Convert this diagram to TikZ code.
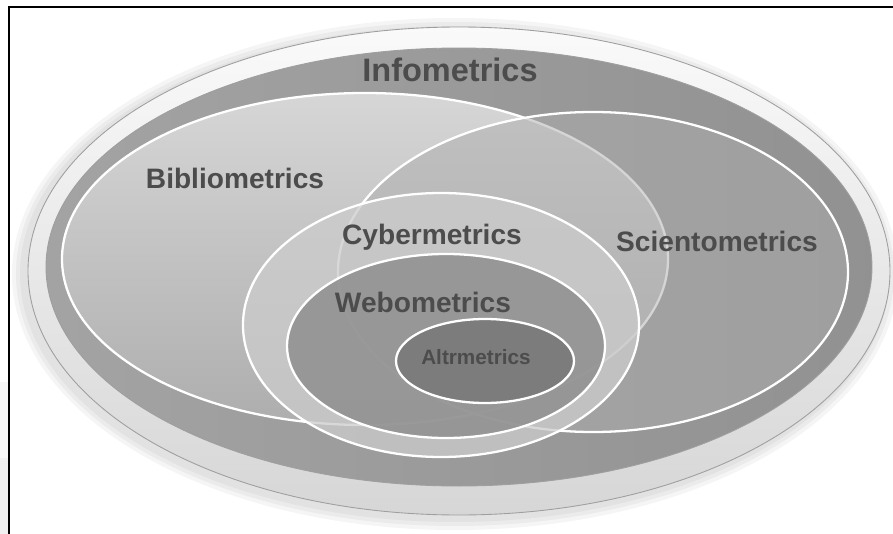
\documentclass[tikz,border=0pt]{standalone}
\usepackage{fontspec}
\setmainfont{Liberation Sans}
\usepackage{xcolor}
\usepackage{tikz}
\definecolor{labelgrey}{gray}{0.3}
\definecolor{infoleft}{gray}{0.64}
\definecolor{inforight}{gray}{0.57}
\definecolor{bibfill}{gray}{0.8}
\definecolor{scifill}{gray}{0.68}
\definecolor{cybfill}{gray}{0.8}
\definecolor{webfill}{gray}{0.56}
\definecolor{altfill}{gray}{0.48}
\tikzstyle{setname} = [font=\bfseries\fontsize{16}{18}\selectfont, text=labelgrey, inner sep=0pt]
\tikzstyle{setedge} = [draw=white, line width=1.3pt]
\tikzstyle{rimedge} = [draw=gray!75, line width=0.5pt]

\begin{document}
\begin{tikzpicture}[x=0.02cm, y=-0.02cm]
    \useasboundingbox (0,0) rectangle (893,534);
    \fill[gray!6] (0,382) rectangle (8,458);
    \fill[gray!12] (0,458) rectangle (8,534);
    \foreach \s in {12,8,4}
        \fill[black, opacity=0.04] (455,274) ellipse [x radius=431+\s, y radius=244+\s];
    \shade[top color=gray!4, bottom color=gray!32, rimedge] (459,271) ellipse [x radius=431, y radius=244];
    \shade[left color=infoleft, right color=inforight, rimedge] (459,267) ellipse [x radius=413, y radius=219];
    \shade[top color=bibfill!80!white, bottom color=bibfill!85!black, setedge] (365,259) ellipse [x radius=303, y radius=166];
    \fill[scifill, opacity=0.5] (593,272) ellipse [x radius=255, y radius=160];
    \draw[setedge] (593,272) ellipse [x radius=255, y radius=160];
    \fill[cybfill, opacity=0.75] (441,325) ellipse [x radius=198, y radius=132];
    \draw[setedge] (441,325) ellipse [x radius=198, y radius=132];
    \fill[webfill, opacity=0.85] (446,346) ellipse [x radius=159, y radius=92];
    \draw[setedge] (446,346) ellipse [x radius=159, y radius=92];
    \fill[altfill, opacity=0.9] (485,361) ellipse [x radius=89, y radius=42];
    \draw[setedge] (485,361) ellipse [x radius=89, y radius=42];
    \node[setname, font=\bfseries\fontsize{18.5}{20}\selectfont] (info) at (450,70) {Infometrics};
    \node[setname] (biblio) at (235,178) {Bibliometrics};
    \node[setname] (cyber) at (432,237) {Cybermetrics};
    \node[setname] (sciento) at (717,241) {Scientometrics};
    \node[setname] (webo) at (423,302) {Webometrics};
    \node[setname, font=\bfseries\fontsize{11.8}{13}\selectfont] (altr) at (476,357) {Altrmetrics};
    \draw[black, line width=1.2pt] (9,534) -- (9,7) -- (893,7);
\end{tikzpicture}
\end{document}
